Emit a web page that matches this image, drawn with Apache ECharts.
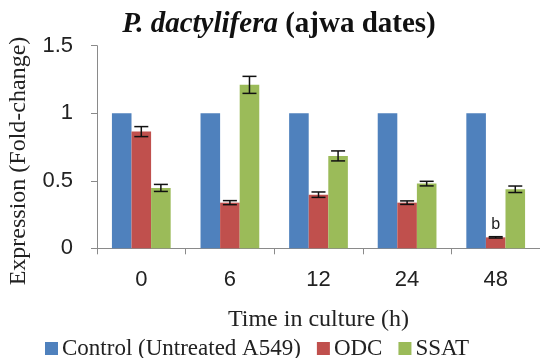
<!DOCTYPE html>
<html><head><meta charset="utf-8">
<script src="https://cdn.jsdelivr.net/npm/echarts@6/dist/echarts.min.js"></script>
<style>html,body{margin:0;padding:0;background:#fff}#c{width:540px;height:358px}</style>
</head><body><div id="c"></div>
<script>
var categories = ['0', '6', '12', '24', '48'];
var controlVals = [1, 1, 1, 1, 1];
var odcVals = [0.864, 0.338, 0.397, 0.338, 0.081];
var odcErr = [0.037, 0.015, 0.02, 0.013, 0.005];
var ssatVals = [0.447, 1.21, 0.684, 0.479, 0.437];
var ssatErr = [0.026, 0.063, 0.037, 0.017, 0.024];
var yTicks = [0, 0.5, 1, 1.5];

var colors = ['#4F81BD', '#C0504D', '#9BBB59'];
var GAP = 0.337;

function errSeries(vals, errs, idx) {
  return {
    type: 'custom',
    silent: true,
    z: 10,
    data: vals.map(function (v, i) { return [i, v - errs[i], v + errs[i]]; }),
    renderItem: function (params, api) {
      var ci = api.value(0);
      var lo = api.coord([ci, api.value(1)]);
      var hi = api.coord([ci, api.value(2)]);
      var cw = api.size([1, 0])[0];
      var bw = cw * (1 - GAP) / 3;
      var x = lo[0] - 1.5 * bw + bw * (idx + 0.5);
      var hw = 7;
      var st = { stroke: '#111', lineWidth: 1.5 };
      return { type: 'group', children: [
        { type: 'line', shape: { x1: x, y1: lo[1], x2: x, y2: hi[1] }, style: st },
        { type: 'line', shape: { x1: x - hw, y1: lo[1], x2: x + hw, y2: lo[1] }, style: st },
        { type: 'line', shape: { x1: x - hw, y1: hi[1], x2: x + hw, y2: hi[1] }, style: st }
      ]};
    }
  };
}

var odcData = odcVals.map(function (v, i) {
  if (i === 4) return { value: v, label: { show: true, position: 'top', distance: 5, formatter: 'b', color: '#222', fontFamily: 'Liberation Sans', fontSize: 16 } };
  return v;
});

var chart = echarts.init(document.getElementById('c'), null, { renderer: 'canvas' });
chart.setOption({
  animation: false,
  color: colors,
  graphic: [
    {
      type: 'text', x: 279, y: 25, silent: true,
      style: {
        text: '{i|P. dactylifera}{b| (ajwa dates)}',
        align: 'center', verticalAlign: 'middle',
        rich: {
          i: { fontFamily: 'Liberation Serif', fontStyle: 'italic', fontWeight: 'bold', fontSize: 29, fill: '#111' },
          b: { fontFamily: 'Liberation Serif', fontWeight: 'bold', fontSize: 29, fill: '#111' }
        }
      }
    },
    {
      type: 'text', x: 19, y: 161, rotation: Math.PI / 2, silent: true,
      style: {
        text: 'Expression (Fold-change)',
        align: 'center', verticalAlign: 'middle',
        fontFamily: 'Liberation Serif', fontSize: 24, fill: '#222'
      }
    }
  ],
  legend: {
    top: 337, left: 45, padding: 0, itemWidth: 13, itemHeight: 13, itemGap: 16,
    icon: 'rect',
    textStyle: { fontFamily: 'Liberation Serif', fontSize: 23, color: '#222', padding: [0, 0, 0, -1] },
    data: ['Control (Untreated A549)', 'ODC', 'SSAT']
  },
  grid: { left: 97, right: 0, top: 45.7, bottom: 109.7 },
  xAxis: {
    type: 'category', data: categories,
    name: 'Time in culture (h)', nameLocation: 'middle', nameGap: 59,
    nameTextStyle: { fontFamily: 'Liberation Serif', fontSize: 24, color: '#222' },
    axisLine: { lineStyle: { color: '#8a8a8a' } },
    axisTick: { show: true, length: 6, lineStyle: { color: '#8a8a8a' } },
    axisLabel: { fontFamily: 'Liberation Sans', fontSize: 22, color: '#222', margin: 21 }
  },
  yAxis: {
    type: 'value', min: 0, max: 1.5, interval: 0.5,
    axisLine: { show: true, lineStyle: { color: '#8a8a8a' } },
    axisTick: { show: true, length: 6, lineStyle: { color: '#8a8a8a' } },
    splitLine: { show: false },
    axisLabel: { fontFamily: 'Liberation Sans', fontSize: 22, color: '#222', margin: 24,
      formatter: function (v) { return yTicks.indexOf(v) >= 0 ? String(v) : ''; } }
  },
  series: [
    { name: 'Control (Untreated A549)', type: 'bar', data: controlVals, barGap: '0%', barCategoryGap: '33.7%' },
    { name: 'ODC', type: 'bar', data: odcData, barGap: '0%', barCategoryGap: '33.7%' },
    { name: 'SSAT', type: 'bar', data: ssatVals, barGap: '0%', barCategoryGap: '33.7%' },
    errSeries(odcVals, odcErr, 1),
    errSeries(ssatVals, ssatErr, 2)
  ]
});
</script></body></html>
